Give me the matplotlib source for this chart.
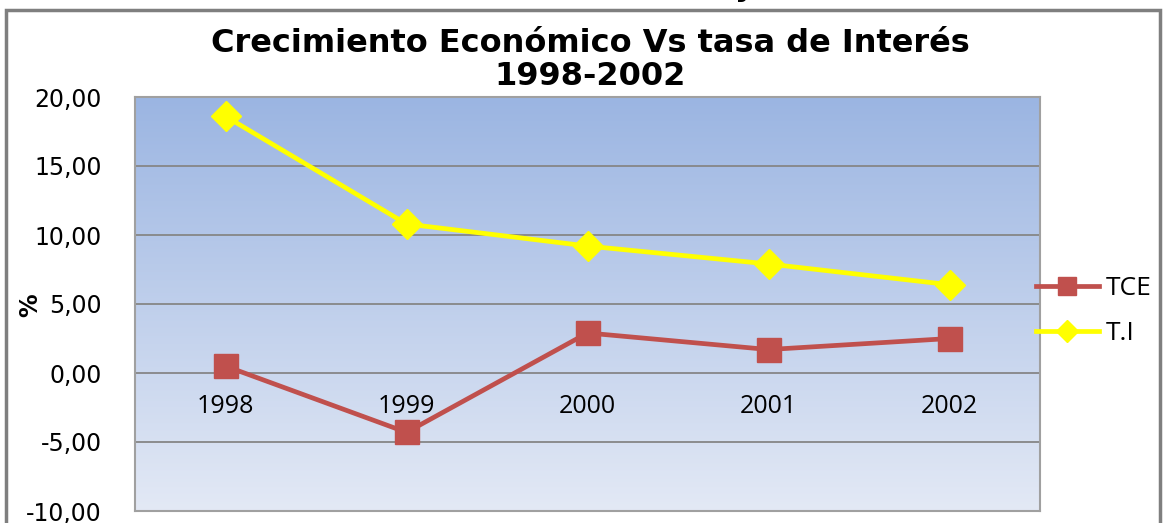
import numpy as np
import matplotlib.pyplot as plt
from matplotlib.patches import Rectangle
from matplotlib.lines import Line2D

# datos
years = ['1998', '1999', '2000', '2001', '2002']
tce = [0.5, -4.3, 2.9, 1.7, 2.5]
ti = [18.6, 10.8, 9.2, 7.9, 6.4]
yticks = [-10, -5, 0, 5, 10, 15, 20]

fig = plt.figure(figsize=(11.67, 5.23), dpi=100)
W, H = 1167, 523
ax = fig.add_axes([135 / W, 1 - 511 / H, (1040 - 135) / W, (511 - 97) / H])

x = np.arange(len(years))
ax.set_xlim(-0.5, len(years) - 0.5)
ax.set_ylim(-10, 20)

# fondo degradado
grad = np.linspace(0, 1, 256).reshape(-1, 1)
top = np.array([0x9B, 0xB5, 0xE2]) / 255
bot = np.array([0xE3, 0xE9, 0xF5]) / 255
img = top + (bot - top) * grad[:, :, None]
ax.imshow(img, extent=[-0.5, len(years) - 0.5, -10, 20], aspect='auto', zorder=0)

for yv in yticks[1:-1]:
    ax.axhline(yv, color='#868686', lw=1.3, zorder=1)

ax.plot(x, tce, color='#C0504D', lw=3.4, marker='s', markersize=17, zorder=3, clip_on=False)
ax.plot(x, ti, color='#FFFF00', lw=3.4, marker='D', markersize=15, zorder=3, clip_on=False)

ax.set_yticks(yticks)
ax.set_yticklabels([('%.2f' % v).replace('.', ',') for v in yticks], fontsize=17, family='DejaVu Sans')
ax.tick_params(axis='y', length=0, pad=24)
ax.set_xticks([])
for i, yr in enumerate(years):
    ax.text(i, -2.4, yr, ha='center', va='center', fontsize=18, family='Open Sans')

for s in ax.spines.values():
    s.set_color('#A0A0A0')
    s.set_linewidth(1.5)

fig.text(30 / W, 1 - 305 / H, '%', rotation=90, ha='center', va='center', fontsize=17, fontweight='bold')

fig.text(590 / W, 1 - 60 / H, 'Crecimiento Económico Vs tasa de Interés\n1998-2002',
         ha='center', va='center', fontsize=23, fontweight='bold', family='DejaVu Sans',
         linespacing=1.05)

# leyenda
h1 = Line2D([], [], color='#C0504D', lw=3.4, marker='s', markersize=13)
h2 = Line2D([], [], color='#FFFF00', lw=3.4, marker='D', markersize=11)
fig.legend([h1, h2], ['TCE', 'T.I'], loc='center left', bbox_to_anchor=(1012 / W, 1 - 311 / H),
           frameon=False, handlelength=2.4, labelspacing=0.75, handletextpad=0.25,
           prop={'family': 'Open Sans', 'size': 19})

# marco exterior
fig.patches.append(Rectangle((6 / W, -0.1), (1160 - 6) / W, 1.1 - 10 / H, transform=fig.transFigure,
                             fill=False, edgecolor='#7F7F7F', lw=2.5))
fig.text(745 / W, 1 + 12 / H, 'y', ha='center', va='center', fontsize=22, fontweight='bold')

fig.savefig('out.png', dpi=100)
